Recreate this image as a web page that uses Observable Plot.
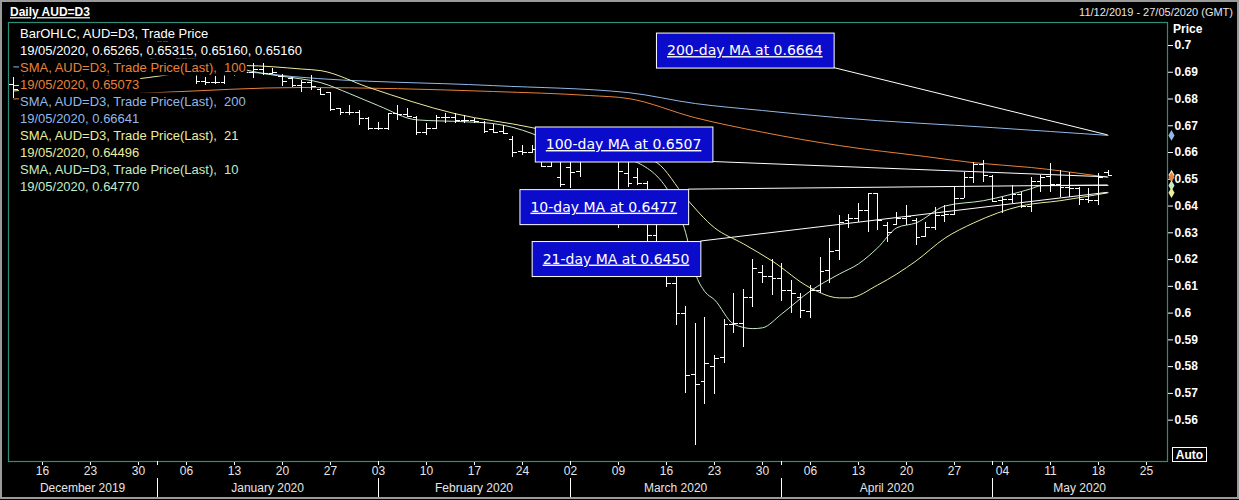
<!DOCTYPE html>
<html><head><meta charset="utf-8">
<script src="https://cdn.jsdelivr.net/npm/d3@7"></script>
<script src="https://cdn.jsdelivr.net/npm/@observablehq/plot@0.6"></script>
<style>
html,body{margin:0;padding:0;background:#000;overflow:hidden;}
#chart{width:1239px;height:500px;}
</style></head><body><div id="chart"></div>
<script>
// ---------- DATA ----------
const firstDate = "2019-12-11";
const lastDate = "2020-05-19";
const axisEndDate = "2020-05-27";
const open = [.6855,.6835,.6905,.6865,.6860,.6850,.6855,.6890,.6900,.6905,.6915,.6920,.6945,.6980,.7000,.7020,.7015,.6980,.6950,.6940,.6865,.6862,.6862,.6895,.6905,.6900,.6910,.6895,.6885,.6878,.6850,.6860,.6835,.6824,.6764,.6750,.6749,.6727,.6690,.6688,.6745,.6742,.6732,.6675,.6690,.6730,.6730,.6720,.6720,.6712,.6685,.6678,.6650,.6605,.6600,.6610,.6548,.6506,.6543,.6530,.6590,.6610,.6615,.6600,.6520,.6505,.6483,.6290,.6200,.6110,.5997,.5772,.5745,.5800,.5835,.5958,.5960,.6057,.6150,.6135,.6130,.6085,.6060,.6005,.6085,.6160,.6235,.6345,.6355,.6382,.6446,.6326,.6330,.6355,.6345,.6285,.6320,.6365,.6370,.6430,.6505,.6555,.6510,.6420,.6425,.6445,.6400,.6490,.6510,.6480,.6470,.6465,.6425,.6420,.65265];
const high = [.6880,.6930,.6940,.6880,.6870,.6865,.6895,.6905,.6915,.6920,.6925,.6950,.6985,.7005,.7032,.7025,.7030,.6985,.6960,.6945,.6880,.6885,.6900,.6915,.6920,.6932,.6932,.6915,.6890,.6880,.6869,.6888,.6839,.6826,.6766,.6775,.6757,.6730,.6712,.6746,.6775,.6764,.6735,.6708,.6738,.6745,.6745,.6738,.6727,.6715,.6705,.6700,.6660,.6625,.6626,.6628,.6590,.6562,.6562,.6610,.6625,.6640,.6650,.6660,.6570,.6540,.6490,.6335,.6215,.6175,.6025,.5962,.5982,.5840,.5975,.6072,.6087,.6202,.6177,.6202,.6185,.6120,.6072,.6102,.6208,.6277,.6364,.6370,.6408,.6446,.6446,.6337,.6375,.6401,.6352,.6337,.6395,.6401,.6468,.6525,.6562,.6570,.6513,.6431,.6476,.6450,.6506,.6513,.6558,.6532,.6525,.6468,.6465,.6521,.65315];
const low = [.6802,.6830,.6850,.6845,.6840,.6835,.6850,.6880,.6895,.6900,.6910,.6915,.6940,.6975,.6990,.7010,.6975,.6930,.6925,.6855,.6850,.6855,.6855,.6885,.6890,.6876,.6888,.6893,.6845,.6843,.6824,.6832,.6813,.6755,.6738,.6738,.6700,.6682,.6682,.6682,.6720,.6730,.6663,.6663,.6685,.6708,.6708,.6708,.6708,.6671,.6672,.6668,.6582,.6588,.6596,.6545,.6545,.6468,.6465,.6507,.6565,.6590,.6575,.6315,.6468,.6476,.6265,.6195,.6095,.5955,.5700,.5505,.5660,.5697,.5810,.5925,.5870,.6020,.6110,.6064,.6045,.6000,.5978,.5978,.6075,.6110,.6195,.6315,.6337,.6300,.6307,.6262,.6326,.6326,.6251,.6281,.6307,.6337,.6368,.6428,.6485,.6487,.6412,.6371,.6408,.6390,.6375,.6450,.6450,.6431,.6431,.6401,.6408,.6401,.65160];
const close = [.6835,.6905,.6865,.6860,.6850,.6855,.6890,.6900,.6905,.6915,.6920,.6945,.6980,.7000,.7020,.7015,.6980,.6950,.6940,.6865,.6862,.6862,.6895,.6905,.6900,.6910,.6895,.6898,.6865,.6850,.6860,.6845,.6818,.6760,.6750,.6749,.6727,.6690,.6688,.6745,.6742,.6735,.6675,.6690,.6730,.6730,.6720,.6720,.6715,.6680,.6675,.6672,.6600,.6600,.6612,.6548,.6575,.6480,.6524,.6590,.6610,.6615,.6620,.6530,.6485,.6484,.6290,.6220,.6110,.5997,.5765,.5735,.5810,.5830,.5958,.5962,.6057,.6165,.6135,.6130,.6085,.6075,.6010,.6085,.6155,.6230,.6340,.6355,.6382,.6446,.6345,.6300,.6355,.6360,.6282,.6320,.6365,.6370,.6430,.6505,.6555,.6515,.6418,.6425,.6442,.6400,.6490,.6505,.6480,.6470,.6465,.6425,.6420,.6505,.65160];

const ma200Dates = ["2019-12-11","2020-01-15","2020-01-21","2020-02-19","2020-03-10","2020-03-19","2020-03-30","2020-04-09","2020-05-01","2020-05-19"];
const ma200Values = [.6920,.6899,.6884,.6850,.6824,.6783,.6757,.6730,.6693,.66641];
const ma100Dates = ["2019-12-11","2020-01-01","2020-01-22","2020-02-19","2020-03-04","2020-03-10","2020-03-19","2020-03-30","2020-04-09","2020-04-22","2020-04-29","2020-05-07","2020-05-19"];
const ma100Values = [.6800,.6824,.6843,.6828,.6813,.6802,.6730,.6676,.6626,.6585,.6562,.6544,.65073];
const ma21Dates = ["2019-12-11","2019-12-31","2020-01-08","2020-01-14","2020-01-22","2020-01-24","2020-01-31","2020-02-13","2020-02-25","2020-03-04","2020-03-13","2020-03-18","2020-03-23","2020-03-26","2020-03-31","2020-04-06","2020-04-09","2020-04-10","2020-04-15","2020-04-21","2020-04-24","2020-04-29","2020-05-06","2020-05-12","2020-05-19"];
const ma21Values = [.6830,.6880,.6910,.6925,.6912,.6906,.6843,.6745,.6693,.6640,.6562,.6431,.6319,.6259,.6195,.6094,.6057,.6057,.6105,.6195,.6280,.6337,.6401,.6420,.64496];
const ma10Dates = ["2019-12-11","2019-12-23","2020-01-02","2020-01-09","2020-01-16","2020-01-21","2020-01-24","2020-01-29","2020-02-03","2020-02-07","2020-02-14","2020-02-19","2020-02-25","2020-03-02","2020-03-06","2020-03-11","2020-03-17","2020-03-18","2020-03-19","2020-03-20","2020-03-23","2020-03-25","2020-03-27","2020-03-30","2020-04-01","2020-04-06","2020-04-09","2020-04-13","2020-04-15","2020-04-17","2020-04-21","2020-04-24","2020-04-30","2020-05-07","2020-05-08","2020-05-19"];
const ma10Values = [.6850,.6870,.6960,.6935,.6895,.6880,.6861,.6820,.6775,.6722,.6715,.6708,.6671,.6600,.6590,.6562,.6400,.6300,.6150,.6080,.6050,.5959,.5942,.5945,.5997,.6083,.6146,.6184,.6244,.6319,.6337,.6400,.6420,.6465,.6476,.64770];

const yTicks = [0.7,0.69,0.68,0.67,0.66,0.65,0.64,0.63,0.62,0.61,0.6,0.59,0.58,0.57,0.56];
const weekTickDates = ["2019-12-16","2019-12-23","2019-12-30","2020-01-06","2020-01-13","2020-01-20","2020-01-27","2020-02-03","2020-02-10","2020-02-17","2020-02-24","2020-03-02","2020-03-09","2020-03-16","2020-03-23","2020-03-30","2020-04-06","2020-04-13","2020-04-20","2020-04-27","2020-05-04","2020-05-11","2020-05-18","2020-05-25"];
const monthStartDates = ["2020-01-01","2020-02-03","2020-03-02","2020-04-01","2020-05-01"];
const monthLabels = ["December 2019","January 2020","February 2020","March 2020","April 2020","May 2020"];

const legendTexts = ["BarOHLC, AUD=D3, Trade Price","19/05/2020, 0.65265, 0.65315, 0.65160, 0.65160","SMA, AUD=D3, Trade Price(Last),  100","19/05/2020, 0.65073","SMA, AUD=D3, Trade Price(Last),  200","19/05/2020, 0.66641","SMA, AUD=D3, Trade Price(Last),  21","19/05/2020, 0.64496","SMA, AUD=D3, Trade Price(Last),  10","19/05/2020, 0.64770"];

const annLabels = ["200-day MA at 0.6664","100-day MA at 0.6507","10-day MA at 0.6477","21-day MA at 0.6450"];
const annValues = [0.66641, 0.65073, 0.64770, 0.64496];

// ---------- STYLE / LAYOUT ----------
const FONT = "'Liberation Sans', Arial, sans-serif";
const TEAL = "#2f8c7c";
const C100 = "#e8823a", C200 = "#92b8e8", C21 = "#ecec9c", C10 = "#c4ecc4";
const legendColors = ["#fff","#fff",C100,C100,C200,C200,C21,C21,C10,C10];
// annotation box placement (date, price, pixel shift)
const annBoxDate = ["2020-03-26","2020-03-10","2020-03-05","2020-03-09"];
const annBoxPrice = [0.6981, 0.6630, 0.6396, 0.6202];
const annBoxShift = [2, -4, 5, -2];

// trading-day index (weekdays) relative to 16 Dec 2019
const base = Date.UTC(2019, 11, 16);
function tIndex(s) {
  const d = typeof s === "string" ? new Date(s + "T00:00:00Z") : s;
  const days = Math.round((d - base) / 864e5);
  const w = Math.floor(days / 7), r = days - 7 * w;
  return w * 5 + Math.min(r, 5);
}
const tradingDates = d3.utcDays(new Date(firstDate + "T00:00:00Z"), new Date("2020-05-20T00:00:00Z")).filter(d => d.getUTCDay() % 6 !== 0);
const bars = tradingDates.map((d, k) => ({i: tIndex(d), o: open[k], h: high[k], l: low[k], c: close[k]}));
const mk = (ds, vs) => ds.map((d, k) => ({i: tIndex(d), v: vs[k]}));
const ma200 = mk(ma200Dates, ma200Values), ma100 = mk(ma100Dates, ma100Values), ma21 = mk(ma21Dates, ma21Values), ma10 = mk(ma10Dates, ma10Values);
const weekIdx = weekTickDates.map(tIndex);
const weekLab = new Map(weekTickDates.map(d => [tIndex(d), d.slice(8, 10)]));
const lastClose = close[close.length - 1];
const diamonds = [
  {v: lastClose, c: "#f2ecc8"}, {v: annValues[1], c: C100}, {v: annValues[2], c: C10}, {v: annValues[3], c: C21}, {v: annValues[0], c: C200}
];

const xDomain = [-34 / 9.6, 1125 / 9.6];
const yDomain = [0.54455, 0.70859];

const chart = Plot.plot({
  width: 1239, height: 500,
  marginLeft: 8, marginRight: 72, marginTop: 22, marginBottom: 39,
  style: {background: "#000", color: "#fff", fontFamily: FONT, fontSize: "12px", overflow: "visible"},
  x: {type: "linear", domain: xDomain, axis: null},
  y: {domain: yDomain, axis: null},
  marks: [
    Plot.axisY({anchor: "right", ticks: yTicks, tickFormat: d => String(+d.toFixed(2)), tickSize: 5, tickPadding: 2, fontSize: 12, fontWeight: "bold", label: null}),
    Plot.axisX({anchor: "bottom", ticks: weekIdx, tickFormat: i => weekLab.get(i), tickSize: 4, tickPadding: 1, fontSize: 12, label: null, fill: "#e6e6e6"}),
    Plot.line(ma200, {x: "i", y: "v", stroke: C200, strokeWidth: 1, curve: "monotone-x"}),
    Plot.line(ma100, {x: "i", y: "v", stroke: C100, strokeWidth: 1, curve: "monotone-x"}),
    Plot.line(ma21, {x: "i", y: "v", stroke: C21, strokeWidth: 1, curve: "monotone-x"}),
    Plot.line(ma10, {x: "i", y: "v", stroke: C10, strokeWidth: 1, curve: "monotone-x"}),
    Plot.ruleX(bars, {x: "i", y1: "l", y2: "h", stroke: "#fff", strokeWidth: 1, shapeRendering: "crispEdges"}),
    Plot.link(bars, {x1: d => d.i - 0.45, x2: "i", y1: "o", y2: "o", stroke: "#fff", strokeWidth: 1, shapeRendering: "crispEdges"}),
    Plot.link(bars, {x1: "i", x2: d => d.i + 0.45, y1: "c", y2: "c", stroke: "#fff", strokeWidth: 1, shapeRendering: "crispEdges"}),
    Plot.frame({stroke: TEAL, strokeWidth: 1.2}),
    Plot.dot(diamonds, {y: "v", frameAnchor: "right", dx: 4, symbol: "diamond", r: 3.2, fill: "c", stroke: "none"})
  ]
});
document.getElementById("chart").append(chart);

const sx = v => chart.scale("x").apply(v);
const sy = v => chart.scale("y").apply(v);
const svg = d3.select(chart);
const X0 = sx(xDomain[0]), X1 = sx(xDomain[1]);
const FB = 500 - 39;

// month separators and labels
const mIdx = monthStartDates.map(tIndex).map(sx);
const bounds = [X0, ...mIdx, X1];
const g = svg.append("g").attr("fill", "#e6e6e6").attr("font-family", FONT).attr("font-size", 12);
mIdx.forEach(x => {
  g.append("line").attr("x1", x).attr("x2", x).attr("y1", 478).attr("y2", 497).attr("stroke", "#fff").attr("shape-rendering", "crispEdges");
  g.append("line").attr("x1", x).attr("x2", x).attr("y1", FB).attr("y2", FB + 4).attr("stroke", "#fff").attr("shape-rendering", "crispEdges");
});
monthLabels.forEach((t, k) => {
  g.append("text").attr("x", (bounds[k] + bounds[k + 1]) / 2).attr("y", 488).attr("dy", "0.35em").attr("text-anchor", "middle").text(t);
});

// legend rows with black backing
const leg = svg.append("g").attr("font-family", FONT).attr("font-size", 13).attr("text-anchor", "start");
legendTexts.forEach((t, k) => {
  const y = 33 + 17 * k;
  const rect = leg.append("rect").attr("fill", "#000");
  const tx = leg.append("text").attr("x", 20).attr("y", y).attr("dy", "0.35em").attr("text-anchor", "start").attr("fill", legendColors[k]).style("white-space", "pre").text(t);
  const bb = tx.node().getBBox();
  rect.attr("x", bb.x - 1).attr("y", y - 8.5).attr("width", bb.width + 2).attr("height", 17);
});

// annotation boxes with connectors
const ann = svg.append("g");
const endX = sx(tIndex(lastDate));
annLabels.forEach((t, k) => {
  const cx = sx(tIndex(annBoxDate[k])) + annBoxShift[k];
  const cy = sy(annBoxPrice[k]);
  const line = ann.append("line");
  const rect = ann.append("rect");
  const tx = ann.append("text").attr("x", cx).attr("y", cy).attr("dy", "0.36em").attr("text-anchor", "middle")
    .attr("fill", "#fff").attr("font-family", "'DejaVu Sans', Verdana, sans-serif").attr("font-size", 14)
    .style("text-decoration", "underline").text(t);
  const w = tx.node().getBBox().width + 22, h = 35;
  const left = cx - w / 2, top = cy - h / 2;
  rect.attr("x", left + 0.5).attr("y", top + 0.5).attr("width", w).attr("height", h).attr("fill", "#0b0bcc").attr("stroke", "#fff").attr("stroke-width", 1);
  const ty = sy(annValues[k]);
  const sy0 = ty > top + h ? top + h : (ty < top ? top : ty);
  line.attr("x1", left + w).attr("y1", sy0).attr("x2", endX).attr("y2", ty).attr("stroke", "#fff").attr("stroke-width", 1);
});

// texts: title, date range, Price, Auto
svg.append("text").attr("x", 10).attr("y", 12).attr("dy", "0.35em").attr("text-anchor", "start").attr("fill", "#fff").attr("font-family", FONT)
  .attr("font-size", 12).attr("font-weight", "bold").style("text-decoration", "underline").text("Daily AUD=D3");
svg.append("text").attr("x", 1233).attr("y", 12).attr("dy", "0.35em").attr("text-anchor", "end").attr("fill", "#e6e6e6")
  .attr("font-family", FONT).attr("font-size", 11).text("11/12/2019 - 27/05/2020 (GMT)");
svg.append("text").attr("x", 1173).attr("y", 29).attr("dy", "0.35em").attr("text-anchor", "start").attr("fill", "#fff").attr("font-family", FONT)
  .attr("font-size", 12).attr("font-weight", "bold").text("Price");
svg.append("rect").attr("x", 1172.5).attr("y", 447.5).attr("width", 34).attr("height", 14).attr("fill", "#000").attr("stroke", "#fff");
svg.append("text").attr("x", 1189.5).attr("y", 455).attr("dy", "0.35em").attr("text-anchor", "middle").attr("fill", "#fff")
  .attr("font-family", FONT).attr("font-size", 12).attr("font-weight", "bold").text("Auto");
// outer border
svg.append("rect").attr("x", 1).attr("y", 1).attr("width", 1237).attr("height", 497).attr("fill", "none").attr("stroke", "#9a9a9a").attr("stroke-width", 2);
</script></body></html>
